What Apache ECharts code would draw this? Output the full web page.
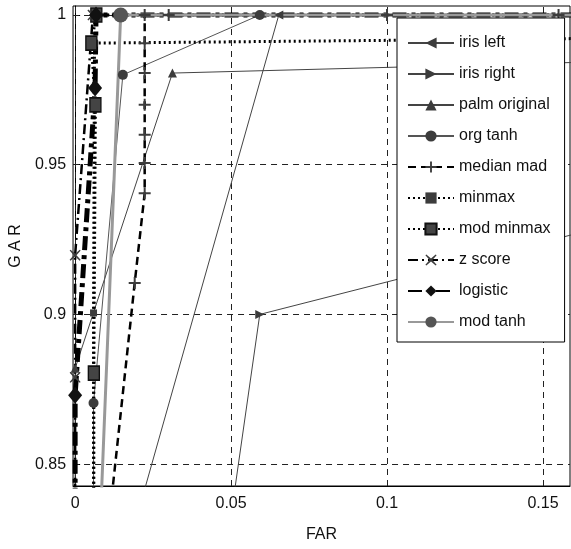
<!DOCTYPE html>
<html>
<head>
<meta charset="utf-8">
<script src="https://cdn.jsdelivr.net/npm/echarts@6/dist/echarts.min.js"></script>
<style>
  html, body { margin: 0; padding: 0; background: #fff; }
  #chart { width: 571px; height: 549px; }
</style>
</head>
<body>
<div id="chart"></div>
<script>
// tick values / labels
const xTicks = [0, 0.05, 0.1, 0.15];
const yTicks = [0.85, 0.9, 0.95, 1];

// series data [FAR, GAR]
const irisLeft = [[0.011, 0.80], [0.0653, 1], [0.3, 1]];
const irisRight = [[0.0455, 0.80], [0.0592, 0.9], [0.3, 0.964]];
const palmOriginal = [[0, 0.80], [0, 0.882], [0.0312, 0.9806], [0.3, 0.988]];
const orgTanh = [[0.0059, 0.80], [0.0059, 0.8704], [0.0153, 0.98], [0.0592, 1], [0.3, 1]];
const medianMad = [[0.0077, 0.80], [0.0191, 0.9105], [0.0223, 0.9405], [0.0223, 0.9506], [0.0223, 0.96],
    [0.0223, 0.97], [0.0223, 0.9806], [0.0223, 0.9906], [0.0223, 1], [0.03, 1], [0.1, 1], [0.155, 1], [0.3, 1]];
const minmax = [[0.0059, 0.80], [0.0059, 0.9005], [0.0062, 0.9906], [0.3, 0.9935]];
const modMinmax = [[0.006, 0.80], [0.006, 0.8804], [0.0065, 0.97], [0.0052, 0.9906], [0.0068, 1], [0.3, 1]];
const zScore = [[0, 0.80], [0, 0.879], [0, 0.9198], [0.0057, 1], [0.3, 1]];
const logistic = [[0, 0.80], [0, 0.873], [0.0064, 0.9756], [0.0067, 1], [0.3, 1]];
const modTanh = [[0.0069, 0.80], [0.0146, 1], [0.3, 1]];

function hasFont(name) {
    const c = document.createElement('canvas').getContext('2d');
    c.font = '20px monospace';
    const a = c.measureText('palm original').width;
    c.font = '20px "' + name + '", monospace';
    return c.measureText('palm original').width !== a;
}
const narrow = hasFont('Liberation Sans Narrow');
const FONT = narrow ? '"Liberation Sans Narrow"' : '"Liberation Sans", Arial';
const FS = narrow ? 19 : 16;

const plus = 'path://M-1,-6L1,-6L1,-1L6,-1L6,1L1,1L1,6L-1,6L-1,1L-6,1L-6,-1L-1,-1Z';
const cross = 'path://M-5,-6L0,-1.5L5,-6L6,-5L1.5,0L6,5L5,6L0,1.5L-5,6L-6,5L-1.5,0L-6,-5Z';
const MK = '#3c3c3c';

function line(name, data, ls, sym, size, extra) {
    return Object.assign({
        name: name,
        type: 'line',
        data: data,
        symbol: sym,
        symbolSize: size,
        showSymbol: true,
        clip: true,
        lineStyle: ls,
        itemStyle: { color: MK, borderWidth: 0 },
        emphasis: { disabled: true },
        animation: false,
        z: 3
    }, extra || {});
}

const chart = echarts.init(document.getElementById('chart'), null, { renderer: 'canvas' });
chart.setOption({
    backgroundColor: '#fff',
    animation: false,
    grid: {
        left: 70, right: 1, top: 6, bottom: 63,
        show: true, borderColor: '#000', borderWidth: 1, backgroundColor: '#fff'
    },
    xAxis: {
        type: 'value',
        min: -0.00067, max: 0.15867,
        name: 'FAR', nameLocation: 'middle', nameGap: 41,
        nameTextStyle: { fontFamily: FONT, fontSize: FS, color: '#111' },
        axisLine: { show: true, lineStyle: { color: '#000', width: 1 } },
        axisTick: { show: true, inside: true, length: 5, customValues: xTicks, lineStyle: { color: '#000' } },
        axisLabel: {
            customValues: xTicks, margin: 10, color: '#111',
            fontFamily: FONT, fontSize: FS,
            formatter: v => String(v)
        },
        splitLine: { show: false }
    },
    yAxis: {
        type: 'value',
        min: 0.8427, max: 1.003,
        name: 'G A R', nameLocation: 'middle', nameGap: 44,
        nameTextStyle: { fontFamily: FONT, fontSize: FS, color: '#111' },
        axisLine: { show: true, lineStyle: { color: '#000', width: 1 } },
        axisTick: { show: true, inside: true, length: 5, customValues: yTicks, lineStyle: { color: '#000' } },
        axisLabel: {
            customValues: yTicks, margin: 7, color: '#111',
            fontFamily: FONT, fontSize: FS,
            formatter: v => String(v)
        },
        splitLine: { show: false }
    },
    legend: {
        orient: 'vertical',
        left: 397, top: 18,
        padding: [17, 14, 12, 10],
        itemWidth: 46, itemHeight: 14, itemGap: 15,
        backgroundColor: '#fff', borderColor: '#000', borderWidth: 1, borderRadius: 0,
        textStyle: { fontFamily: FONT, fontSize: FS, color: '#111' },
        data: ['iris left', 'iris right', 'palm original', 'org tanh', 'median mad',
            'minmax', 'mod minmax', 'z score', 'logistic', 'mod tanh'],
        selectedMode: false,
        z: 10
    },
    series: [
        {
            name: 'grid', type: 'line', data: [], z: 1, silent: true,
            markLine: {
                z: 1,
                silent: true, symbol: 'none', label: { show: false }, animation: false,
                lineStyle: { color: '#222', width: 1, type: [6, 5] },
                data: xTicks.map(v => ({ xAxis: v })).concat(yTicks.map(v => ({ yAxis: v })))
            }
        },
        line('iris left', irisLeft, { color: '#444', width: 1 }, 'triangle', 9, { symbolRotate: 90 }),
        line('iris right', irisRight, { color: '#444', width: 1 }, 'triangle', 9, { symbolRotate: -90 }),
        line('palm original', palmOriginal, { color: '#444', width: 1 }, 'triangle', 9),
        line('org tanh', orgTanh, { color: '#555', width: 1 }, 'circle', 10),
        line('median mad', medianMad, { color: '#000', width: 2.5, type: [8, 5] }, plus, 12),
        line('minmax', minmax, { color: '#000', width: 3, type: [2, 3] }, 'rect', 7),
        line('mod minmax', modMinmax, { color: '#000', width: 3, type: [2, 3] }, 'rect', [11, 14],
            { itemStyle: { color: '#444', borderColor: '#111', borderWidth: 1.5 } }),
        line('z score', zScore, { color: '#000', width: 2.5, type: [10, 4, 2, 4] }, cross, 11),
        line('logistic', logistic, { color: '#000', width: 5, type: [14, 5, 4, 5] }, 'diamond', [14, 17],
            { itemStyle: { color: '#111' } }),
        line('mod tanh', modTanh, { color: '#999', width: 3 }, 'circle', 15, { itemStyle: { color: '#555' } })
    ]
});
</script>
</body>
</html>
